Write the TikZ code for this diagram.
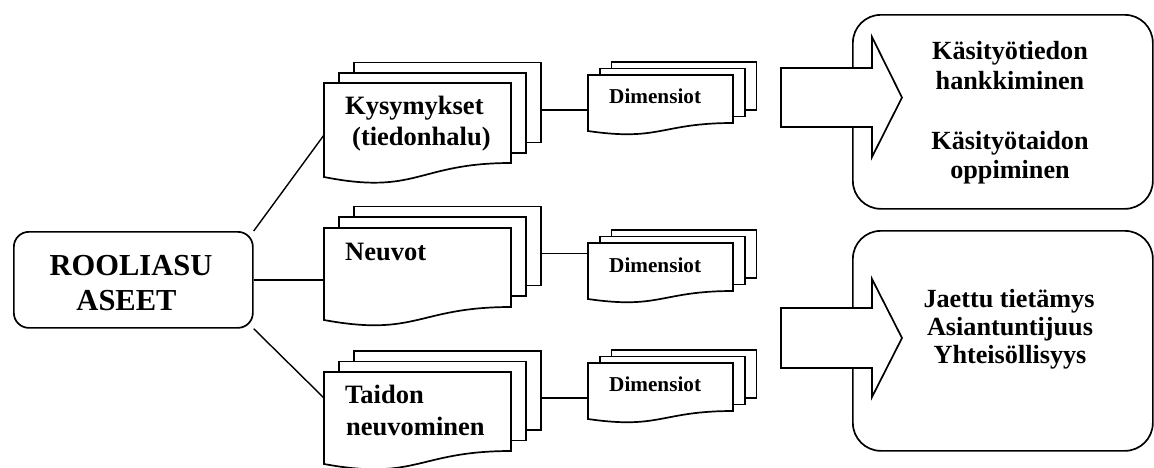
\documentclass[tikz,border=0pt]{standalone}
\usepackage{fontspec}
\setmainfont{Liberation Serif}
\usetikzlibrary{calc}
\tikzset{
  docshape/.style={draw=black, fill=white, line width=1.7pt, line join=miter},
  conn/.style={draw=black, line width=1.4pt},
  rootbox/.style={draw=black, fill=white, line width=1.7pt, rounded corners=15pt, inner sep=0pt},
  callbox/.style={draw=black, fill=white, line width=1.7pt, rounded corners=28pt, inner sep=0pt},
  blockarrow/.style={draw=black, fill=white, line width=1.7pt, line join=miter},
  anchorbox/.style={inner sep=0pt, outer sep=0pt, anchor=north west},
  bigtxt/.style={inner sep=0pt, font=\fontsize{26.5}{31}\selectfont\bfseries},
  roottxt/.style={inner sep=0pt, font=\fontsize{30.5}{35}\selectfont\bfseries},
  dimtxt/.style={inner sep=0pt, font=\fontsize{21.2}{25}\selectfont\bfseries},
  outtxt/.style={inner sep=0pt, font=\fontsize{26.2}{30}\selectfont\bfseries}
}
% #1 name, #2 left, #3 top, #4 width, #5 height (right side), #6 extra left depth, #7 dx, #8 dy (upwards)
\newcommand\mydocstack[8]{%
  \path[docshape] (#2+2*#7,#3-2*#8) rectangle ++(#4,#5);
  \path[docshape] (#2+#7,#3-#8) rectangle ++(#4,#5);
  \path[docshape] (#2,#3) -- (#2+#4,#3) -- (#2+#4,#3+#5)
     .. controls (#2+0.5*#4,#3+#5) and (#2+0.5*#4,#3+#5+2.32*#6) .. (#2,#3+#5+#6) -- cycle;
  \node[anchorbox, minimum width=#4pt, minimum height=#5pt] (#1) at (#2,#3) {};
  \node[anchorbox, minimum width=#4pt, minimum height=#5pt] (#1-back) at (#2+2*#7,#3-2*#8) {};
}
\begin{document}
\begin{tikzpicture}[x=1pt,y=-1pt]
\useasboundingbox (0,0) rectangle (1154,467);

% root
\node[rootbox, minimum width=239pt, minimum height=96pt, anchor=north west] (root) at (13,231) {};
\node[roottxt, anchor=base] (rootA) at (131,275) {ROOLIASU};
\node[roottxt, anchor=base] (rootB) at (126.5,310) {ASEET};

% big document stacks
\mydocstack{kys}{324}{83}{187}{80}{14}{15}{10.3}
\mydocstack{neu}{324}{228}{187}{79}{13}{15}{10.7}
\mydocstack{tai}{324}{372}{187}{79}{13}{15}{10.5}

\node[bigtxt, anchor=base west] (kysA) at ([xshift=21pt,yshift=-31pt]kys.north west) {Kysymykset};
\node[bigtxt, anchor=base west] (kysB) at ([xshift=28pt,yshift=-62pt]kys.north west) {(tiedonhalu)};
\node[bigtxt, anchor=base west] (neuA) at ([xshift=21pt,yshift=-32pt]neu.north west) {Neuvot};
\node[bigtxt, anchor=base west] (taiA) at ([xshift=21pt,yshift=-31pt]tai.north west) {Taidon};
\node[bigtxt, anchor=base west] (taiB) at ([xshift=22pt,yshift=-63pt]tai.north west) {neuvominen};

% small document stacks
\mydocstack{dimA}{588}{75}{145}{48}{8}{11.7}{6.5}
\mydocstack{dimB}{588}{243}{145}{48}{8}{11.7}{6.5}
\mydocstack{dimC}{588}{363}{145}{48}{8}{11.7}{6.5}

\node[dimtxt, anchor=base west] (dimAt) at ([xshift=21pt,yshift=-28pt]dimA.north west) {Dimensiot};
\node[dimtxt, anchor=base west] (dimBt) at ([xshift=21pt,yshift=-29pt]dimB.north west) {Dimensiot};
\node[dimtxt, anchor=base west] (dimCt) at ([xshift=21pt,yshift=-28pt]dimC.north west) {Dimensiot};

% connectors
\draw[conn] (root.north east) -- ([yshift=-12pt]kys.west);
\draw[conn] (root.east) -- (root.east -| neu.west);
\draw[conn] (root.south east) -- ([yshift=13.5pt]tai.west);

\coordinate (kR) at ([yshift=-7.5pt]kys-back.east);
\coordinate (nR) at ([yshift=-7.5pt]neu-back.east);
\coordinate (tR) at ([yshift=-7.5pt]tai-back.east);
\draw[conn] (kR) -- (kR -| dimA.west);
\draw[conn] (nR) -- (nR -| dimB.west);
\draw[conn] (tR) -- (tR -| dimC.west);

% outcome boxes
\node[callbox, minimum width=300pt, minimum height=194pt, anchor=north west] (outA) at (852,14) {};
\node[callbox, minimum width=300pt, minimum height=220pt, anchor=north west] (outB) at (852,230) {};

\path[blockarrow] (781,68) -- (872,68) -- (872,37) -- (902,97.5) -- (872,157) -- (872,127) -- (781,127) -- cycle;
\path[blockarrow] (781,308) -- (872,308) -- (872,279) -- (902,338) -- (872,397) -- (872,368) -- (781,368) -- cycle;

\node[outtxt, anchor=base] (oA1) at (1010,59) {Käsityötiedon};
\node[outtxt, anchor=base] (oA2) at (1010,89) {hankkiminen};
\node[outtxt, anchor=base] (oA3) at (1010,149) {Käsityötaidon};
\node[outtxt, anchor=base] (oA4) at (1010,178) {oppiminen};

\node[outtxt, anchor=base] (oB1) at (1009,307) {Jaettu tietämys};
\node[outtxt, anchor=base] (oB2) at (1010,335) {Asiantuntijuus};
\node[outtxt, anchor=base] (oB3) at (1010,363) {Yhteisöllisyys};
\end{tikzpicture}
\end{document}
